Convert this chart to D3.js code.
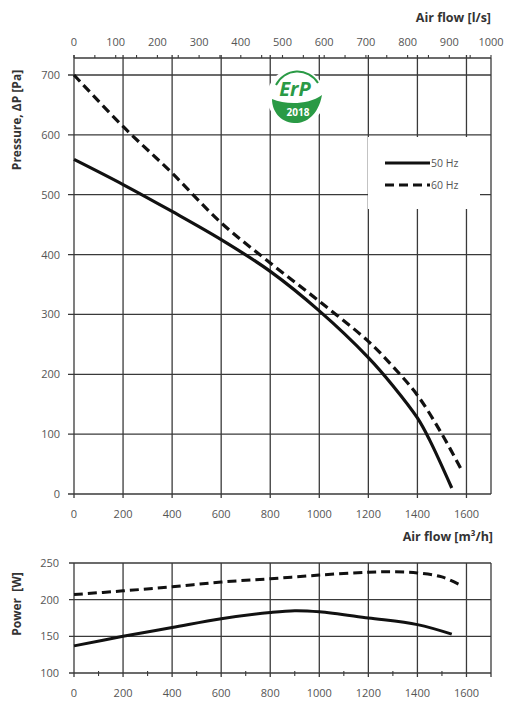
<!DOCTYPE html>
<html><head><meta charset="utf-8">
<script src="https://cdn.jsdelivr.net/npm/d3@7"></script>
<style>
body{margin:0;background:#fff;}
svg{display:block;}
text{font-family:"Open Sans",sans-serif;}
</style></head>
<body>
<svg id="c" width="506" height="702"></svg>
<script>
// ---- data ----
const flowTicks = [0,200,400,600,800,1000,1200,1400,1600];
const lsTicks = [0,100,200,300,400,500,600,700,800,900,1000];
const pressureTicks = [0,100,200,300,400,500,600,700];
const powerTicks = [100,150,200,250];
const seriesNames = ["50 Hz","60 Hz"];
const pressure50 = [[0,559],[200,517],[400,472],[600,425],[800,372],[1000,306],[1200,228],[1300,181],[1400,127],[1450,90],[1540,10]];
const pressure60 = [[0,700],[200,614],[400,536],[600,453],[800,386],[1000,322],[1200,255],[1300,213],[1400,165],[1500,100],[1580,40]];
const power50 = [[0,137],[200,150],[400,162],[600,174],[800,182.5],[900,185],[1000,183.5],[1200,175],[1400,166],[1540,153]];
const power60 = [[0,207],[200,212],[400,217.5],[600,224],[800,228.5],[1000,233.5],[1200,237.5],[1300,238],[1400,236.5],[1500,231],[1580,219]];

// ---- layout ----
const svg = d3.select("#c");
const L = 74, R = 491;
const gridC = "#3a3a3a", txtC = "#555", titleC = "#333";
const x = d3.scaleLinear().domain([0,1700]).range([L,R]);
const xls = d3.scaleLinear().domain([0,1000]).range([L,R]);
const yP = d3.scaleLinear().domain([0,700]).range([494,75]);
const yW = d3.scaleLinear().domain([100,250]).range([673,563]);
const topY = 58;

const g = svg.append("g");
// ---- main chart grid ----
g.selectAll(".hp").data(pressureTicks).enter().append("line")
  .attr("x1",L-6).attr("x2",R).attr("y1",d=>yP(d)).attr("y2",d=>yP(d))
  .attr("stroke",gridC).attr("stroke-width",1.3);
g.selectAll(".vp").data(flowTicks).enter().append("line")
  .attr("x1",d=>x(d)).attr("x2",d=>x(d)).attr("y1",topY-3).attr("y2",yP(0)+4)
  .attr("stroke",gridC).attr("stroke-width",1.3);
g.append("line").attr("x1",R).attr("x2",R).attr("y1",topY).attr("y2",yP(0)).attr("stroke",gridC).attr("stroke-width",1.3);
g.append("line").attr("x1",L).attr("x2",R).attr("y1",topY).attr("y2",topY).attr("stroke",gridC).attr("stroke-width",1.3);
g.selectAll(".tl").data(d3.range(0,1001,50)).enter().append("line")
  .attr("x1",d=>xls(d)).attr("x2",d=>xls(d)).attr("y1",topY-3).attr("y2",topY)
  .attr("stroke",gridC).attr("stroke-width",1.1);

g.selectAll(".tlt").data(lsTicks).enter().append("text")
  .attr("x",d=>xls(d)).attr("y",46).attr("text-anchor","middle")
  .attr("font-size",11).attr("fill",txtC).text(d=>d);
g.append("text").attr("x",491).attr("y",22).attr("text-anchor","end")
  .attr("font-size",12.5).attr("font-weight","bold").attr("fill",titleC).text("Air flow [l/s]");

g.selectAll(".ylp").data(pressureTicks).enter().append("text")
  .attr("x",60).attr("y",d=>yP(d)+4).attr("text-anchor","end")
  .attr("font-size",11).attr("fill",txtC).text(d=>d);
g.append("text").attr("transform","translate(21,120) rotate(-90)").attr("text-anchor","middle")
  .attr("font-size",12).attr("font-weight","bold").attr("fill",titleC).text("Pressure, ΔP [Pa]");

g.selectAll(".xlp").data(flowTicks).enter().append("text")
  .attr("x",d=>x(d)).attr("y",518).attr("text-anchor","middle")
  .attr("font-size",11).attr("fill",txtC).text(d=>d);
g.append("text").attr("x",493).attr("y",541).attr("text-anchor","end")
  .attr("font-size",12.5).attr("font-weight","bold").attr("fill",titleC).text("Air flow [m³/h]");

// ---- legend box ----
g.append("rect").attr("x",368).attr("y",137).attr("width",112).attr("height",72).attr("fill","#fff");
const leg = g.append("g");
seriesNames.forEach((n,i)=>{
  const yy = 163 + i*22;
  leg.append("line").attr("x1",385).attr("x2",430).attr("y1",yy).attr("y2",yy)
    .attr("stroke","#111").attr("stroke-width",3.2).attr("stroke-dasharray", i===1?"9,5":null);
  leg.append("text").attr("x",431).attr("y",yy+4).attr("font-size",10.5).attr("fill",txtC).text(n);
});

// ---- curves ----
const lineP = d3.line().x(d=>x(d[0])).y(d=>yP(d[1])).curve(d3.curveCatmullRom.alpha(0.5));
g.append("path").attr("d",lineP(pressure50)).attr("fill","none").attr("stroke","#111").attr("stroke-width",3.2);
g.append("path").attr("d",lineP(pressure60)).attr("fill","none").attr("stroke","#111").attr("stroke-width",3.2).attr("stroke-dasharray","9,5");

// ---- ErP logo ----
const lg = g.append("g").attr("transform","translate(296,97)");
lg.append("circle").attr("r",29).attr("fill","#fff");
lg.append("path").attr("d","M-20,-12 A24,24 0 0 1 22,-14").attr("fill","none").attr("stroke","#2a9a45").attr("stroke-width",2);
lg.append("path").attr("d","M-24,2 C-10,8 12,8 26,-2 C22,20 8,27 -2,26 C-16,25 -24,14 -24,2 Z").attr("fill","#2a9a45");
lg.append("text").attr("x",-1).attr("y",-1).attr("text-anchor","middle").attr("font-size",20).attr("font-weight","bold").attr("font-style","italic").attr("fill","#2a9a45").text("ErP");
lg.append("text").attr("x",2).attr("y",19).attr("text-anchor","middle").attr("font-size",10).attr("font-weight","bold").attr("fill","#fff").text("2018");

// ---- power chart ----
const p = svg.append("g");
p.selectAll(".hw").data(powerTicks).enter().append("line")
  .attr("x1",L-5).attr("x2",R).attr("y1",d=>yW(d)).attr("y2",d=>yW(d))
  .attr("stroke",gridC).attr("stroke-width",1.3);
p.selectAll(".vw").data(flowTicks).enter().append("line")
  .attr("x1",d=>x(d)).attr("x2",d=>x(d)).attr("y1",yW(250)).attr("y2",yW(100)+4)
  .attr("stroke",gridC).attr("stroke-width",1.3);
p.append("line").attr("x1",R).attr("x2",R).attr("y1",yW(250)).attr("y2",yW(100)+4).attr("stroke",gridC).attr("stroke-width",1.3);
p.selectAll(".mw").data(d3.range(100,1700,200)).enter().append("line")
  .attr("x1",d=>x(d)).attr("x2",d=>x(d)).attr("y1",yW(100)-2).attr("y2",yW(100)+3)
  .attr("stroke",gridC).attr("stroke-width",1.1);
p.selectAll(".ylw").data(powerTicks).enter().append("text")
  .attr("x",59).attr("y",d=>yW(d)+4).attr("text-anchor","end")
  .attr("font-size",11).attr("fill",txtC).text(d=>d);
p.selectAll(".xlw").data(flowTicks).enter().append("text")
  .attr("x",d=>x(d)).attr("y",697).attr("text-anchor","middle")
  .attr("font-size",11).attr("fill",txtC).text(d=>d);
p.append("text").attr("transform","translate(21,604) rotate(-90)").attr("text-anchor","middle")
  .attr("font-size",12).attr("font-weight","bold").attr("fill",titleC).attr("xml:space","preserve").text("Power  [W]");
const lineW = d3.line().x(d=>x(d[0])).y(d=>yW(d[1])).curve(d3.curveCatmullRom.alpha(0.5));
p.append("path").attr("d",lineW(power50)).attr("fill","none").attr("stroke","#111").attr("stroke-width",3);
p.append("path").attr("d",lineW(power60)).attr("fill","none").attr("stroke","#111").attr("stroke-width",3).attr("stroke-dasharray","9,5");
</script>
</body></html>
